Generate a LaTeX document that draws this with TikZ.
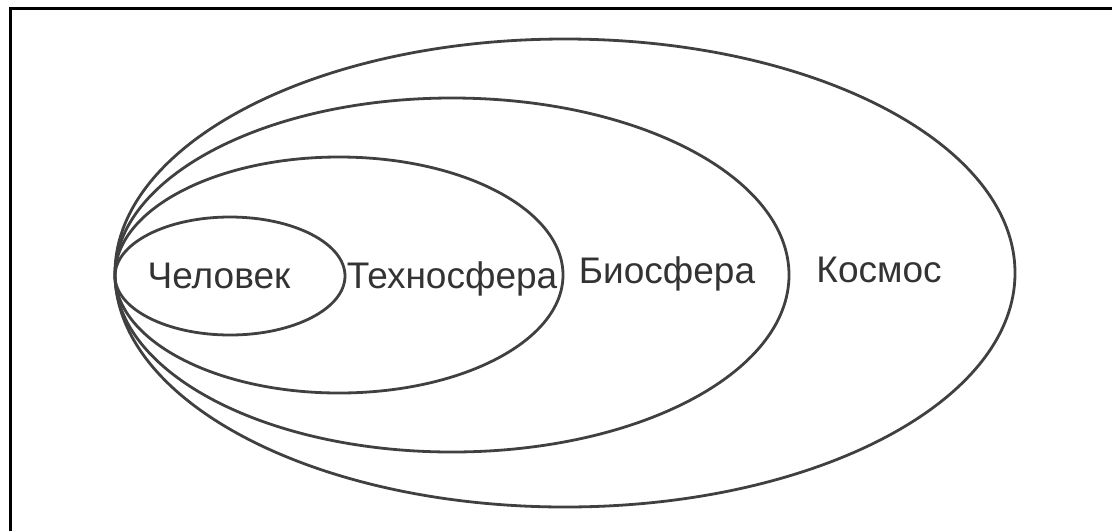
\documentclass[tikz,border=0pt]{standalone}
\usepackage{fontspec}
\setmainfont{Liberation Sans}
\begin{document}
\begin{tikzpicture}[x=1pt,y=1pt,
  ring/.style={draw=black!75, line width=1.4pt},
  lbl/.style={anchor=base, inner sep=0pt, text=black!80, font=\fontsize{18.5}{21}\selectfont},
  frame/.style={draw=black, line width=1.5pt}]
\useasboundingbox (0,0) rectangle (556,-265.5);
% frame (top and left only)
\coordinate (ftr) at (556,-4.25);
\coordinate (ftl) at (5.25,-4.25);
\coordinate (fbl) at (5.25,-265.5);
\draw[frame] (ftr) -- (ftl) -- (fbl);
% nested ellipses
\draw[ring] (282.5,-136.5) ellipse [x radius=225pt, y radius=117pt];
\draw[ring] (226,-137.5) ellipse [x radius=168.5pt, y radius=88.5pt];
\draw[ring] (169.5,-137.5) ellipse [x radius=112pt, y radius=59pt];
\draw[ring] (115,-138) ellipse [x radius=57.5pt, y radius=29.5pt];
% labels
\node[lbl] (chel) at (109.5,-144) {Человек};
\node[lbl] (tech) at (226,-144) {Техносфера};
\node[lbl] (bio) at (333.5,-141.5) {Биосфера};
\node[lbl] (kosm) at (439.5,-141) {Космос};
\end{tikzpicture}
\end{document}
